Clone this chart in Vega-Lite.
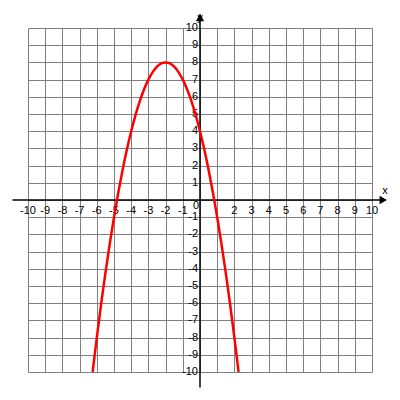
{
  "$schema": "https://vega.github.io/schema/vega-lite/v6.json",
  "width": 344,
  "height": 344,
  "autosize": {"type": "none"},
  "padding": {"left": 28, "top": 28, "right": 28, "bottom": 28},
  "background": "white",
  "config": {
    "view": {"stroke": null},
    "axis": {"grid": true, "labels": false, "ticks": false, "domain": false, "title": null, "gridColor": "#808080", "gridOpacity": 1, "gridWidth": 1}
  },
  "datasets": {
    "axes": [
      {"x": -10.9, "y": 0, "x2": 10.8, "y2": 0},
      {"x": 0, "y": -10.9, "x2": 0, "y2": 10.8}
    ],
    "xlabels": [
      {"x": -10, "y": 0, "t": "-10"}, {"x": -9, "y": 0, "t": "-9"}, {"x": -8, "y": 0, "t": "-8"}, {"x": -7, "y": 0, "t": "-7"},
      {"x": -6, "y": 0, "t": "-6"}, {"x": -5, "y": 0, "t": "-5"}, {"x": -4, "y": 0, "t": "-4"}, {"x": -3, "y": 0, "t": "-3"},
      {"x": -2, "y": 0, "t": "-2"}, {"x": -1, "y": 0, "t": "-1"}, {"x": 2, "y": 0, "t": "2"},
      {"x": 3, "y": 0, "t": "3"}, {"x": 4, "y": 0, "t": "4"}, {"x": 5, "y": 0, "t": "5"}, {"x": 6, "y": 0, "t": "6"},
      {"x": 7, "y": 0, "t": "7"}, {"x": 8, "y": 0, "t": "8"}, {"x": 9, "y": 0, "t": "9"}, {"x": 10, "y": 0, "t": "10"}
    ],
    "ylabels": [
      {"x": 0, "y": 10, "t": "10"}, {"x": 0, "y": 9, "t": "9"}, {"x": 0, "y": 8, "t": "8"}, {"x": 0, "y": 7, "t": "7"},
      {"x": 0, "y": 6, "t": "6"}, {"x": 0, "y": 5, "t": "5"}, {"x": 0, "y": 4, "t": "4"}, {"x": 0, "y": 3, "t": "3"},
      {"x": 0, "y": 2, "t": "2"}, {"x": 0, "y": 1, "t": "1"}, {"x": 0, "y": -1, "t": "-1"}, {"x": 0, "y": -2, "t": "-2"},
      {"x": 0, "y": -3, "t": "-3"}, {"x": 0, "y": -4, "t": "-4"}, {"x": 0, "y": -5, "t": "-5"}, {"x": 0, "y": -6, "t": "-6"},
      {"x": 0, "y": -7, "t": "-7"}, {"x": 0, "y": -8, "t": "-8"}, {"x": 0, "y": -9, "t": "-9"}, {"x": 0, "y": -10, "t": "-10"}
    ],
    "curve": [
      {"x": -6.243, "y": -10}, {"x": -6, "y": -8}, {"x": -5.75, "y": -6.0625}, {"x": -5.5, "y": -4.25},
      {"x": -5.25, "y": -2.5625}, {"x": -5, "y": -1}, {"x": -4.75, "y": 0.4375}, {"x": -4.5, "y": 1.75},
      {"x": -4.25, "y": 2.9375}, {"x": -4, "y": 4}, {"x": -3.75, "y": 4.9375}, {"x": -3.5, "y": 5.75},
      {"x": -3.25, "y": 6.4375}, {"x": -3, "y": 7}, {"x": -2.75, "y": 7.4375}, {"x": -2.5, "y": 7.75},
      {"x": -2.25, "y": 7.9375}, {"x": -2, "y": 8}, {"x": -1.75, "y": 7.9375}, {"x": -1.5, "y": 7.75},
      {"x": -1.25, "y": 7.4375}, {"x": -1, "y": 7}, {"x": -0.75, "y": 6.4375}, {"x": -0.5, "y": 5.75},
      {"x": -0.25, "y": 4.9375}, {"x": 0, "y": 4}, {"x": 0.25, "y": 2.9375}, {"x": 0.5, "y": 1.75},
      {"x": 0.75, "y": 0.4375}, {"x": 1, "y": -1}, {"x": 1.25, "y": -2.5625}, {"x": 1.5, "y": -4.25},
      {"x": 1.75, "y": -6.0625}, {"x": 2, "y": -8}, {"x": 2.243, "y": -10}
    ]
  },
  "encoding": {
    "x": {"field": "x", "type": "quantitative", "scale": {"domain": [-10, 10], "nice": false, "zero": false},
          "axis": {"values": [-10,-9,-8,-7,-6,-5,-4,-3,-2,-1,0,1,2,3,4,5,6,7,8,9,10]}},
    "y": {"field": "y", "type": "quantitative", "scale": {"domain": [-10, 10], "nice": false, "zero": false},
          "axis": {"values": [-10,-9,-8,-7,-6,-5,-4,-3,-2,-1,0,1,2,3,4,5,6,7,8,9,10]}}
  },
  "layer": [
    {
      "data": {"name": "axes"},
      "mark": {"type": "rule", "color": "black", "strokeWidth": 1.5},
      "encoding": {
        "x2": {"field": "x2"},
        "y2": {"field": "y2"}
      }
    },
    {
      "data": {"name": "xlabels"},
      "mark": {"type": "text", "font": "Liberation Sans", "fontSize": 11, "baseline": "middle", "align": "center", "dy": 11, "color": "black"},
      "encoding": {
        "text": {"field": "t"}
      }
    },
    {
      "data": {"name": "ylabels"},
      "mark": {"type": "text", "font": "Liberation Sans", "fontSize": 11, "baseline": "middle", "align": "right", "dx": -2, "color": "black"},
      "encoding": {
        "text": {"field": "t"}
      }
    },
    {
      "data": {"values": [{"x": 0, "y": 0, "t": "0"}]},
      "mark": {"type": "text", "font": "Liberation Sans", "fontSize": 11, "baseline": "middle", "align": "right", "dx": -1, "dy": 6, "color": "black"},
      "encoding": {
        "text": {"field": "t"}
      }
    },
    {
      "data": {"values": [{"x": 0, "y": 10.6, "s": "triangle-up"}, {"x": 10.65, "y": 0, "s": "triangle-right"}]},
      "mark": {"type": "point", "filled": true, "color": "black", "size": 70, "opacity": 1},
      "encoding": {
        "shape": {"field": "s", "type": "nominal", "scale": null}
      }
    },
    {
      "data": {"values": [{"x": 0, "y": 10.6, "t": "y", "dx": 10}, {"x": 10.75, "y": 0.55, "t": "x", "dx": 0}]},
      "mark": {"type": "text", "font": "Liberation Sans", "fontSize": 11, "baseline": "middle", "align": "center", "color": "black"},
      "encoding": {
        "text": {"field": "t"},
        "xOffset": {"field": "dx", "type": "quantitative", "scale": null}
      }
    },
    {
      "data": {"name": "curve"},
      "mark": {"type": "line", "color": "#ff0000", "strokeWidth": 2.5, "interpolate": "monotone"},
      "encoding": {}
    }
  ]
}
